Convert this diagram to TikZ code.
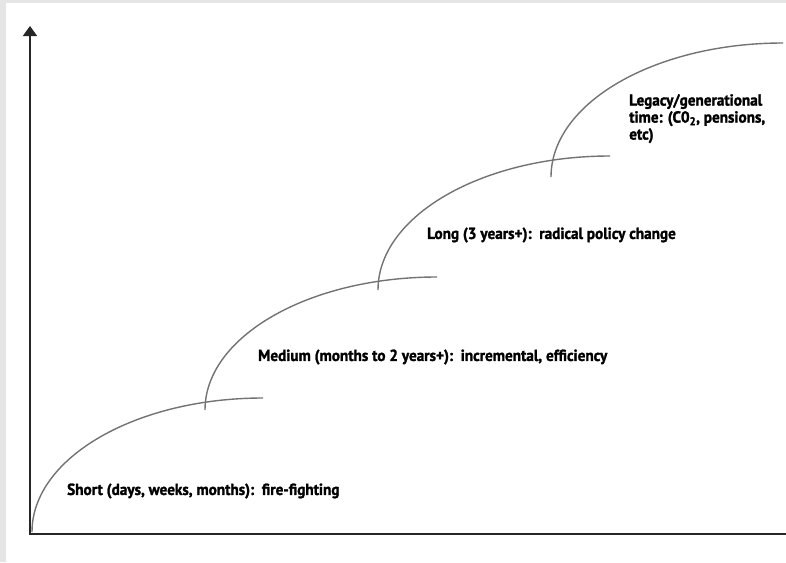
\documentclass[tikz,border=0pt]{standalone}
\usepackage{fontspec}
\setmainfont[FakeStretch=0.95,BoldFeatures={FakeBold=1.6}]{PT Sans}
\usepackage{tikz}
\usetikzlibrary{arrows.meta}
\tikzset{
	stage/.style={draw=black!55,line width=1.4pt},
	axis/.style={draw=black!85,line width=1.7pt},
	lbl/.style={inner sep=0pt,font=\bfseries\fontsize{16}{17}\selectfont}
}
\begin{document}
\begin{tikzpicture}[x=1pt,y=-1pt]
				\fill[black!10] (0,0) rectangle (786,562);
				\fill[white] (6,3) rectangle (786,562);
				\useasboundingbox (0,0) rectangle (786,562);
				\draw[axis,-{Triangle[width=14pt,length=10pt]}] (30,535)--(30,26);
				\draw[axis] (29,534)--(786,534);
				\draw[stage] (32,532) arc[start angle=180,end angle=270,x radius=231,y radius=134];
				\draw[stage] (205,410) arc[start angle=180,end angle=270,x radius=232,y radius=133];
				\draw[stage] (378,290) arc[start angle=180,end angle=270,x radius=232,y radius=134];
				\draw[stage] (551,177) arc[start angle=180,end angle=270,x radius=232,y radius=134];
				\node[lbl,anchor=west] (short) at (67,491) {Short (days, weeks, months):\ \ fire-fighting};
				\node[lbl,anchor=west] (medium) at (258,357) {Medium (months to 2 years+):\ \ incremental, efficiency};
				\node[lbl,anchor=west] (long) at (427,235) {Long (3 years+):\ \ radical policy change};
				\node[lbl,anchor=north west,align=left] (legacy) at (629,94) {Legacy/generational\\time: (C0\textsubscript{2}, pensions,\\etc)};
			\end{tikzpicture}
\end{document}
